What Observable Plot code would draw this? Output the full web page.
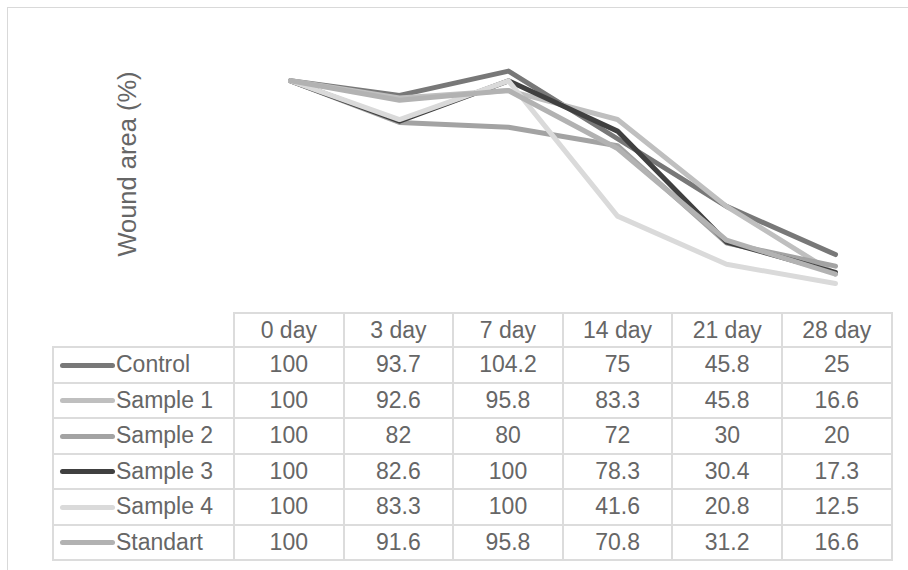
<!DOCTYPE html>
<html>
<head>
<meta charset="utf-8">
<script src="https://cdn.jsdelivr.net/npm/d3@7"></script>
<script src="https://cdn.jsdelivr.net/npm/@observablehq/plot@0.6"></script>
<style>
  html, body { margin: 0; padding: 0; width: 908px; height: 570px; overflow: hidden; background: #fff; font-family: "Liberation Sans", Arial, sans-serif; }
  #frame { position: absolute; left: 7px; top: 7px; width: 920px; height: 600px; border: 1.5px solid #d9d9d9; box-sizing: border-box; }
  #chart { position: absolute; left: 0; top: 0; }
  #ylabel { position: absolute; left: 127px; top: 164px; transform: translate(-50%, -50%) rotate(-90deg); font-size: 25.5px; color: #666666; white-space: nowrap; }
  #tbl { position: absolute; left: 52px; top: 312px; border-collapse: collapse; table-layout: fixed; font-size: 23px; color: #666666; }
  #tbl td { border: 2px solid #dcdcdc; text-align: center; padding: 0; height: 33.5px; line-height: 23px; }
  #tbl tr.head td { height: 32px; }
  #tbl td.corner { border-top: none; border-left: none; }
  #tbl td.name { text-align: left; white-space: nowrap; }
  .key { display: inline-block; width: 55px; height: 5px; border-radius: 3px; vertical-align: middle; margin-left: 6px; margin-right: 1px; position: relative; top: -1px; }
</style>
</head>
<body>
<div id="frame"></div>
<div id="chart"></div>
<div id="ylabel">Wound area (%)</div>
<table id="tbl"></table>
<script>
const days = ["0 day", "3 day", "7 day", "14 day", "21 day", "28 day"];
const seriesNames = ["Control", "Sample 1", "Sample 2", "Sample 3", "Sample 4", "Standart"];
const seriesColors = ["#787878", "#bfbfbf", "#a3a3a3", "#404040", "#dadada", "#b2b2b2"];
const control = [100, 93.7, 104.2, 75, 45.8, 25];
const sample1 = [100, 92.6, 95.8, 83.3, 45.8, 16.6];
const sample2 = [100, 82, 80, 72, 30, 20];
const sample3 = [100, 82.6, 100, 78.3, 30.4, 17.3];
const sample4 = [100, 83.3, 100, 41.6, 20.8, 12.5];
const standart = [100, 91.6, 95.8, 70.8, 31.2, 16.6];
const allValues = [control, sample1, sample2, sample3, sample4, standart];

const data = [];
seriesNames.forEach((s, i) => {
  days.forEach((d, j) => data.push({series: s, day: d, value: allValues[i][j]}));
});

const chart = Plot.plot({
  width: 908,
  height: 312,
  marginLeft: 233.3,
  marginRight: 17,
  marginTop: 34,
  marginBottom: 0,
  x: {type: "point", domain: days, padding: 0.5, axis: null},
  y: {domain: [0, 120], axis: null},
  color: {domain: seriesNames, range: seriesColors},
  marks: [
    Plot.line(data, {x: "day", y: "value", z: "series", stroke: "series", strokeWidth: 5, strokeLinecap: "round", strokeLinejoin: "round"})
  ]
});
chart.style.background = "transparent";
document.getElementById("chart").appendChild(chart);

// data table
const tbl = document.getElementById("tbl");
const cg = document.createElement("colgroup");
[181, ...days.map(() => 109.6)].forEach(w => {
  const c = document.createElement("col");
  c.style.width = w + "px";
  cg.appendChild(c);
});
tbl.appendChild(cg);
const hr = document.createElement("tr");
hr.className = "head";
const corner = document.createElement("td");
corner.className = "corner";
hr.appendChild(corner);
days.forEach(d => { const td = document.createElement("td"); td.textContent = d; hr.appendChild(td); });
tbl.appendChild(hr);
seriesNames.forEach((s, i) => {
  const tr = document.createElement("tr");
  const nt = document.createElement("td");
  nt.className = "name";
  const k = document.createElement("span");
  k.className = "key";
  k.style.background = seriesColors[i];
  nt.appendChild(k);
  nt.appendChild(document.createTextNode(s));
  tr.appendChild(nt);
  allValues[i].forEach(v => { const td = document.createElement("td"); td.textContent = v; tr.appendChild(td); });
  tbl.appendChild(tr);
});
</script>
</body>
</html>
